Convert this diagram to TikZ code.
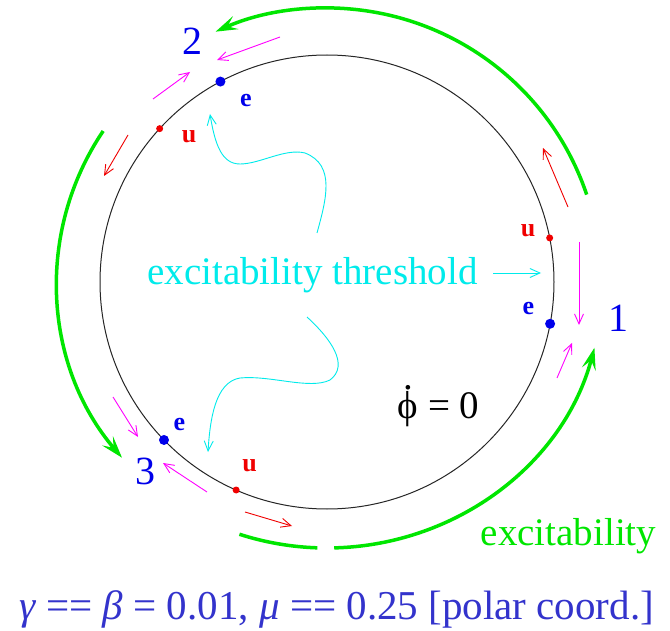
\documentclass[tikz,border=0pt]{standalone}
\usepackage{fontspec}
\setmainfont{Liberation Serif}
\usepackage{tikz}
\usetikzlibrary{arrows.meta}

\definecolor{exgreen}{RGB}{0,230,0}
\definecolor{exblue}{RGB}{0,0,235}
\definecolor{parblue}{RGB}{51,51,204}
\definecolor{exmag}{RGB}{255,0,255}
\definecolor{exred}{RGB}{240,0,0}
\definecolor{excyan}{RGB}{0,235,235}

\newcommand{\phidot}{{\ooalign{ϕ\cr\hidewidth\raisebox{0.72em}{.}\hidewidth\cr}}}

\begin{document}
\begin{tikzpicture}[x=1pt, y=-1pt,
    bigflow/.style={exgreen, line width=3.5pt, -{Stealth[length=22pt,width=14pt,inset=9pt]}},
    smallflow/.style={line width=0.9pt, -{Straight Barb[length=10pt,width=9pt]}},
    dotlab/.style={anchor=base, font=\fontsize{26}{26}\selectfont\bfseries},
    ptlab/.style={anchor=base, exblue, font=\fontsize{40}{40}\selectfont},
    bigtext/.style={anchor=base, font=\fontsize{39}{39}\selectfont}]
    % frame (pixel units, y downwards)
    \fill[white] (0,0) rectangle (670,631);
    \useasboundingbox (0,0) rectangle (670,631);

    % ===== Invariant circle =====
    \coordinate (c) at (327,282);
    \draw[black!85, line width=1pt] (c) circle[radius=227];

    % Fixed points on the circle (angle measured clockwise)
    \foreach \nm/\ang/\col/\sz in {u1/-11.2/exred/3.5, e1/10.6/exblue/5,
                                 e2/-118/exblue/5, u2/-137.5/exred/3.5,
                                 e3/-224.1/exblue/5, u3/-246.4/exred/3.5} {
        \path (c) ++(\ang:227) coordinate (\nm);
        \fill[\col] (\nm) circle[radius=\sz];
    }
    \node[dotlab, exred]  (tu1) at (528,237) {u};
    \node[dotlab, exblue] (te1) at (528.5,315) {e};
    \node[dotlab, exblue] (te2) at (246,107) {e};
    \node[dotlab, exred]  (tu2) at (189,143) {u};
    \node[dotlab, exblue] (te3) at (179.5,430) {e};
    \node[dotlab, exred]  (tu3) at (249.5,471) {u};

    % Numbers of the three points
    \node[ptlab] (p1) at (618,332) {1};
    \node[ptlab] (p2) at (192.5,55) {2};
    \node[ptlab] (p3) at (145,484) {3};

    % ===== Local flow along the circle =====
    \foreach \xa/\ya/\xb/\yb/\col in {568/207/543/148/exred, 579/242/579/325/exmag,
                                     557/378/572/343/exmag, 280/37/217/60/exmag,
                                     153/99/190/72/exmag, 128/135/104/176/exred,
                                     113/397/138/437/exmag, 207/492/163/463/exmag,
                                     245/512/292/526/exred} {
        \draw[smallflow, \col] (\xa,\ya) -- (\xb,\yb);
    }

    % ===== Global flow (green) =====
    \draw[bigflow] (c) ++(-18.6:274) arc[start angle=-18.6, end angle=-114, radius=274];
    \draw[bigflow] (c) ++(-146:270) arc[start angle=-146, end angle=-220.6, radius=270];
    \draw[exgreen, line width=3.5pt] (c) ++(-251.5:276 and 266)
        arc[start angle=-251.5, end angle=-268, x radius=276, y radius=266];
    \draw[bigflow] (c) ++(-271.5:276 and 266)
        arc[start angle=-271.5, end angle=-345.7, x radius=276, y radius=266];
    \node[bigtext, exgreen] (exc) at (568.5,545) {excitability};

    % ===== Threshold label and pointers =====
    \node[bigtext, excyan] (thr) at (312.5,285) {excitability threshold};
    \coordinate (thrtail) at (493,273);
    \coordinate (thrtip) at (541,273);
    \draw[smallflow, excyan] (thrtail) -- (thrtip);
    \coordinate (wavA) at (317,233);
    \coordinate (wavB) at (307,317);
    \draw[smallflow, excyan] (wavA) .. controls (326,200) and (336,165) .. (305,153)
        .. controls (285,148) and (260,164) .. (240,164)
        .. controls (222,164) and (215,145) .. (210,114);
    \draw[smallflow, excyan] (wavB) .. controls (330,338) and (350,365) .. (330,380)
        .. controls (310,390) and (270,375) .. (240,378)
        .. controls (215,382) and (210,420) .. (208,452);

    % Phase equation
    \node[bigtext] (phid) at (438.5,418) {\phidot{} = 0};

    % Parameters
    \node[bigtext, parblue, font=\fontsize{41}{41}\selectfont] (pars) at (336.5,619)
        {\textit{γ} == \textit{β} = 0.01, \textit{μ} == 0.25 [polar coord.]};
\end{tikzpicture}
\end{document}
